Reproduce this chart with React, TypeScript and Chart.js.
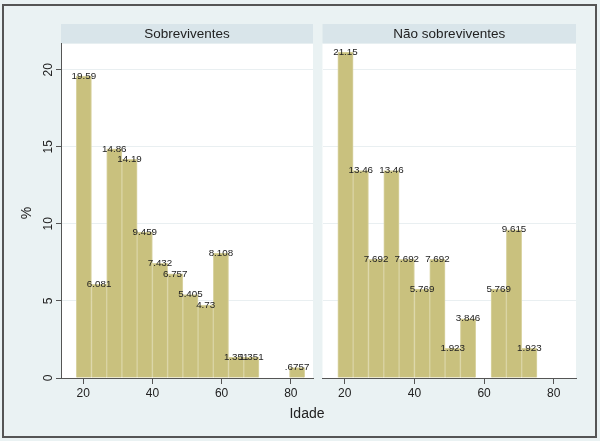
import React, { useEffect, useRef } from "react";
import { Chart, registerables } from "chart.js";

Chart.register(...registerables);

// ---- data ----
const binCenters = [20.2, 24.6, 29, 33.4, 37.8, 42.2, 46.6, 51, 55.4, 59.8, 64.2, 68.6, 73, 77.4, 81.8];
const survivors = [19.59, 6.081, 14.86, 14.19, 9.459, 7.432, 6.757, 5.405, 4.73, 8.108, 1.351, 1.351, 0, 0, 0.6757];
const nonSurvivors = [21.15, 13.46, 7.692, 13.46, 7.692, 5.769, 7.692, 1.923, 3.846, 0, 5.769, 9.615, 1.923, 0, 0];
const xTicks = [20, 40, 60, 80];
const yTicks = [0, 5, 10, 15, 20];
const panelTitles = ["Sobreviventes", "Não sobreviventes"];
const xTitle = "Idade";
const yTitle = "%";

const FONT = "'Liberation Sans', Arial, Helvetica, sans-serif";
const BAR = "#c9c17e";
const BAR_EDGE = "#dad4a4";
const HEADER = "#d9e5ea";
const OUTER = "#eaf2f3";
const AXIS = "#555555";
const GRID = "#e9eff1";

function fmt(v: number): string {
  let s = v.toPrecision(4);
  if (s.includes(".")) s = s.replace(/0+$/, "").replace(/\.$/, "");
  if (s.startsWith("0.")) s = s.slice(1);
  return s;
}

function makeChart(canvas: HTMLCanvasElement, values: number[], title: string, showY: boolean, padLeft: number, padRight: number) {
  const panelPlugin = {
    id: "panel",
    beforeDraw(chart: any) {
      const { ctx, chartArea } = chart;
      ctx.save();
      ctx.fillStyle = "#ffffff";
      ctx.fillRect(chartArea.left, chartArea.top, chartArea.right - chartArea.left, chartArea.bottom - chartArea.top);
      ctx.fillStyle = HEADER;
      ctx.fillRect(chartArea.left, 24, chartArea.right - chartArea.left, chartArea.top - 24);
      ctx.fillStyle = "#222";
      ctx.font = `13.5px ${FONT}`;
      ctx.textAlign = "center";
      ctx.textBaseline = "middle";
      ctx.fillText(title, (chartArea.left + chartArea.right) / 2, 34.5);
      ctx.restore();
    },
    afterDatasetsDraw(chart: any) {
      const { ctx } = chart;
      const meta = chart.getDatasetMeta(0);
      ctx.save();
      ctx.fillStyle = "#222";
      ctx.font = `9.8px ${FONT}`;
      ctx.textAlign = "center";
      ctx.textBaseline = "middle";
      meta.data.forEach((el: any, i: number) => {
        const v = values[i];
        if (v > 0) ctx.fillText(fmt(v), el.x, el.y);
      });
      if (showY) {
        const ys = chart.scales.y;
        ctx.font = `12px ${FONT}`;
        yTicks.forEach((t) => {
          const py = ys.getPixelForValue(t);
          ctx.save();
          ctx.translate(48.5, py);
          ctx.rotate(-Math.PI / 2);
          ctx.fillText(String(t), 0, 0);
          ctx.restore();
        });
      }
      ctx.restore();
    },
  };

  return new Chart(canvas, {
    type: "bar",
    data: {
      datasets: [
        {
          data: binCenters.map((x, i) => ({ x, y: values[i] })),
          backgroundColor: BAR,
          borderColor: BAR_EDGE,
          borderWidth: 1,
          borderSkipped: "bottom",
          barPercentage: 1,
          categoryPercentage: 1,
        },
      ],
    },
    options: {
      responsive: false,
      animation: false,
      devicePixelRatio: 1,
      layout: { padding: { left: padLeft, right: padRight, top: 43.5, bottom: 0 } },
      plugins: { legend: { display: false }, tooltip: { enabled: false } },
      scales: {
        x: {
          type: "linear",
          min: 13.6,
          max: 86.4,
          offset: false,
          afterBuildTicks: (s: any) => {
            s.ticks = xTicks.map((v) => ({ value: v }));
          },
          afterFit: (s: any) => {
            s.height = 63;
          },
          grid: { display: true, drawOnChartArea: false, drawTicks: true, tickLength: 6, tickColor: AXIS, offset: false },
          border: { display: true, color: AXIS, width: 1 },
          ticks: { color: "#222", font: { family: FONT, size: 12 }, padding: 2, maxRotation: 0 },
        },
        y: {
          type: "linear",
          min: 0,
          max: 21.7,
          afterBuildTicks: (s: any) => {
            s.ticks = yTicks.map((v) => ({ value: v }));
          },
          afterFit: (s: any) => {
            s.width = showY ? 61 : 0;
          },
          grid: { color: GRID, lineWidth: 1, drawTicks: showY, tickLength: 5, tickColor: AXIS },
          border: { display: showY, color: AXIS, width: 1 },
          ticks: { display: false },
        },
      },
    },
    plugins: [panelPlugin],
  } as any);
}

export default function App() {
  const c1 = useRef<HTMLCanvasElement>(null);
  const c2 = useRef<HTMLCanvasElement>(null);

  useEffect(() => {
    const a = makeChart(c1.current!, survivors, panelTitles[0], true, 0, 7);
    const b = makeChart(c2.current!, nonSurvivors, panelTitles[1], false, 2.5, 24);
    return () => {
      a.destroy();
      b.destroy();
    };
  }, []);

  return (
    <div style={{ position: "absolute", left: 0, top: 0, width: 600, height: 441, background: OUTER, overflow: "hidden", fontFamily: FONT }}>
      <div style={{ position: "absolute", left: 2, top: 4, width: 595, height: 434, boxSizing: "border-box", border: `2px solid ${AXIS}` }} />
      <canvas ref={c1} width={320} height={441} style={{ position: "absolute", left: 0, top: 0, width: 320, height: 441 }} />
      <canvas ref={c2} width={280} height={441} style={{ position: "absolute", left: 320, top: 0, width: 280, height: 441 }} />
      <div style={{ position: "absolute", left: 257, top: 404, width: 100, textAlign: "center", fontSize: 14, color: "#222", lineHeight: "18px" }}>{xTitle}</div>
      <div style={{ position: "absolute", left: 6, top: 204, width: 40, textAlign: "center", fontSize: 14, color: "#222", lineHeight: "18px", transform: "rotate(-90deg)" }}>{yTitle}</div>
    </div>
  );
}
